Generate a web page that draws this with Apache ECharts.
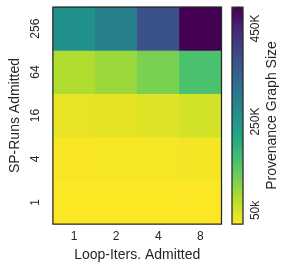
<!DOCTYPE html>
<html><head><meta charset="utf-8">
<script src="https://cdn.jsdelivr.net/npm/echarts@6/dist/echarts.min.js"></script>
<style>html,body{margin:0;padding:0;background:#fff}#c{width:289px;height:271px}</style>
</head><body><div id="c"></div>
<script>
const loopIters = ['1', '2', '4', '8'];
const spRuns = ['1', '4', '16', '64', '256'];
// rows bottom->top (spRuns), columns loopIters
const row1 = [600, 700, 800, 1000];
const row4 = [3700, 4400, 5000, 6500];
const row16 = [15000, 18000, 22000, 31000];
const row64 = [56000, 70000, 93000, 135000];
const row256 = [233000, 266000, 350000, 466000];
const colorbarTicks = [50000, 250000, 450000];
const colorbarTickLabels = ['50k', '250K', '450K'];
const viridisReversed = ['#fde725', '#bddf26', '#7ad151', '#44bf70', '#22a884', '#21918c', '#2a788e', '#355f8d', '#414487', '#482475', '#440154'];

const rows = [row1, row4, row16, row64, row256];
const data = [];
rows.forEach((r, yi) => r.forEach((v, xi) => data.push([xi, yi, v])));

const font = 'Liberation Sans, Arial, sans-serif';
const dark = '#262626';
const chart = echarts.init(document.getElementById('c'), null, {renderer: 'canvas'});
chart.setOption({
  animation: false,
  textStyle: {fontFamily: font},
  grid: [
    {left: 47.5, top: 7, width: 174, height: 217, show: true, borderColor: dark, borderWidth: 1.25, backgroundColor: 'transparent', z: 10},
    {left: 232, top: 7, width: 11, height: 217, show: true, borderColor: dark, borderWidth: 1.25, backgroundColor: 'transparent', z: 10}
  ],
  xAxis: [
    {gridIndex: 0, type: 'category', data: loopIters,
     axisLine: {show: false}, axisTick: {show: false}, splitLine: {show: false},
     axisLabel: {color: dark, fontSize: 12, margin: 7, fontFamily: font},
     name: 'Loop-Iters. Admitted', nameLocation: 'middle', nameGap: 31.5,
     nameTextStyle: {color: dark, fontSize: 14, fontFamily: font, verticalAlign: 'middle'}},
    {gridIndex: 1, type: 'value', show: false, min: 0, max: 1}
  ],
  yAxis: [
    {gridIndex: 0, type: 'category', data: spRuns,
     axisLine: {show: false}, axisTick: {show: false}, splitLine: {show: false},
     axisLabel: {color: dark, fontSize: 12, margin: 17, rotate: 90, align: 'center', verticalAlign: 'middle', fontFamily: font},
     name: 'SP-Runs Admitted', nameLocation: 'middle', nameGap: 35.5, nameRotate: 90,
     nameTextStyle: {color: dark, fontSize: 14, fontFamily: font, align: 'center', verticalAlign: 'middle'}},
    {gridIndex: 1, type: 'value', position: 'right', min: 0, max: 466000,
     axisLine: {show: false}, splitLine: {show: false},
     axisTick: {show: true, length: 4, customValues: colorbarTicks, lineStyle: {color: dark, width: 1}},
     axisLabel: {show: true, customValues: colorbarTicks, color: dark, fontSize: 12, margin: 13, rotate: 90,
       align: 'right', verticalAlign: 'middle', fontFamily: font,
       formatter: v => colorbarTickLabels[colorbarTicks.indexOf(v)]},
     name: 'Provenance Graph Size', nameLocation: 'middle', nameGap: 29, nameRotate: 90,
     nameTextStyle: {color: dark, fontSize: 14, fontFamily: font, align: 'center', verticalAlign: 'middle'}}
  ],
  visualMap: {
    type: 'continuous', min: 0, max: 466000, calculable: false, show: true,
    orient: 'vertical', left: 232, top: 7, itemWidth: 11, itemHeight: 217, padding: 0,
    text: null, showLabel: false, seriesIndex: 0,
    inRange: {color: viridisReversed}, z: 1
  },
  series: [{
    type: 'heatmap', xAxisIndex: 0, yAxisIndex: 0, data: data,
    itemStyle: {borderWidth: 0}, emphasis: {disabled: true}
  }]
});
</script></body></html>
